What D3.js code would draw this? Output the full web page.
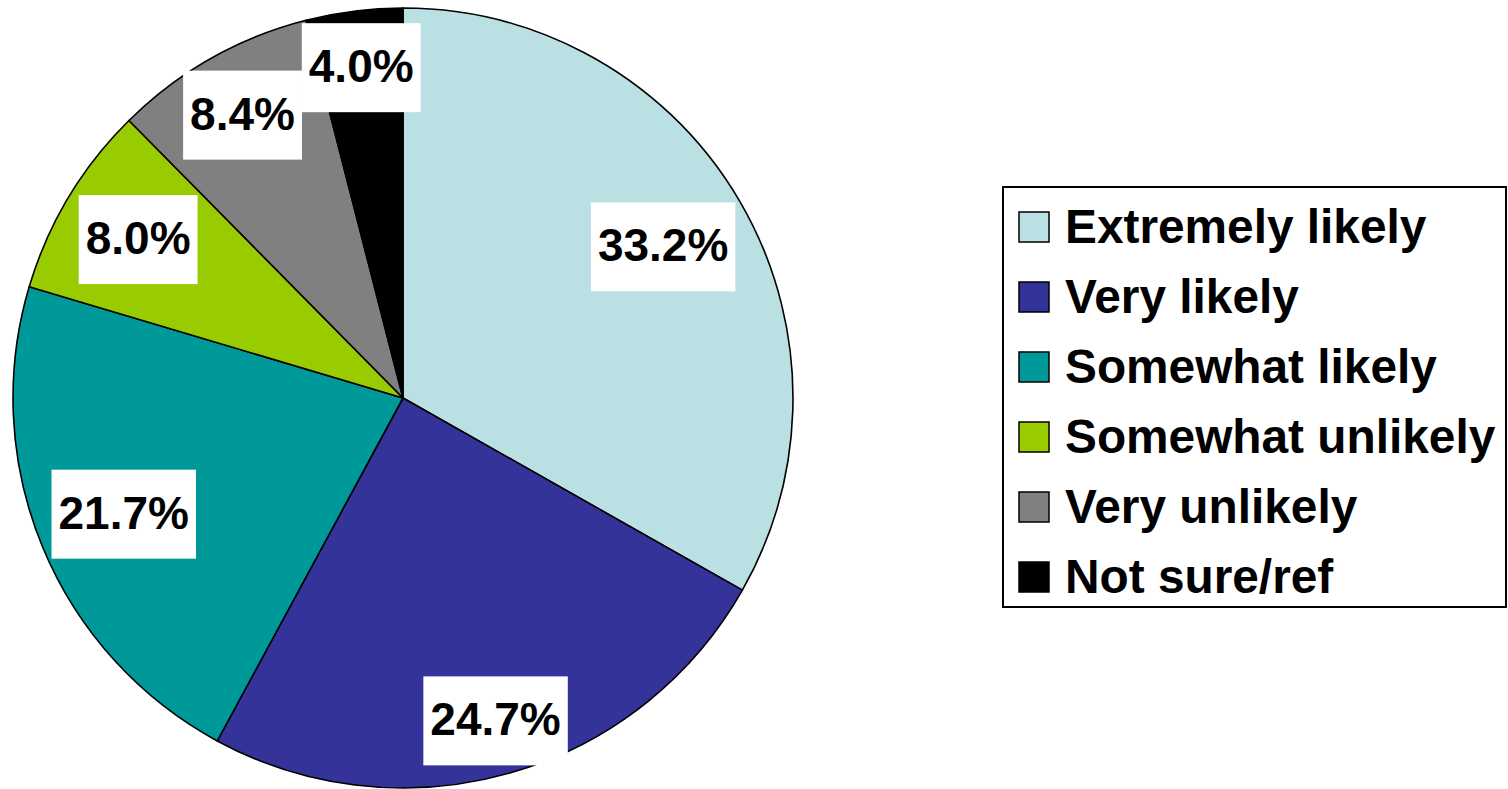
<!DOCTYPE html>
<html>
<head>
<meta charset="utf-8">
<script src="https://cdn.jsdelivr.net/npm/d3@7"></script>
<style>
  html, body { margin: 0; padding: 0; background: #fff; }
  svg { display: block; }
  text { font-family: "Liberation Sans", Arial, sans-serif; font-weight: bold; }
</style>
</head>
<body>
<svg id="chart" width="1508" height="789"></svg>
<script>
// ---- data ----
const categories = ["Extremely likely", "Very likely", "Somewhat likely", "Somewhat unlikely", "Very unlikely", "Not sure/ref"];
const values = [33.2, 24.7, 21.7, 8.0, 8.4, 4.0];
const colors = ["#BBE0E3", "#333399", "#009999", "#99CC00", "#808080", "#000000"];
// label placement (fraction of radius, per slice) — layout only
const labelRadiusFrac = [0.772, 0.86, 0.775, 0.792, 0.835, 0.855];

const svg = d3.select("#chart");
const cx = 403, cy = 398, R = 390;

const pie = d3.pie().sort(null).value(d => d)(values);
const arc = d3.arc().innerRadius(0).outerRadius(R);

const g = svg.append("g").attr("transform", `translate(${cx},${cy})`);

g.selectAll("path.slice")
  .data(pie)
  .join("path")
  .attr("class", "slice")
  .attr("d", arc)
  .attr("fill", (d, i) => colors[i])
  .attr("stroke", "#000")
  .attr("stroke-width", 1.6)
  .attr("stroke-linejoin", "round");

// labels
const fmt = d3.format(".1f");
const labelFont = 46;
const labels = g.selectAll("g.lbl")
  .data(pie)
  .join("g")
  .attr("class", "lbl")
  .attr("transform", (d, i) => {
    const a = (d.startAngle + d.endAngle) / 2;
    const r = R * labelRadiusFrac[i];
    return `translate(${r * Math.sin(a)},${-r * Math.cos(a)})`;
  });

labels.each(function (d) {
  const sel = d3.select(this);
  const t = sel.append("text")
    .attr("text-anchor", "middle")
    .attr("font-size", labelFont)
    .attr("y", 15)
    .attr("fill", "#000")
    .text(fmt(d.data) + "%");
  const w = t.node().getComputedTextLength();
  sel.insert("rect", "text")
    .attr("x", -w / 2 - 7)
    .attr("y", -44)
    .attr("width", w + 14)
    .attr("height", 89)
    .attr("fill", "#fff");
});

// legend
const lg = svg.append("g");
lg.append("rect")
  .attr("x", 1003).attr("y", 187)
  .attr("width", 503).attr("height", 420)
  .attr("fill", "#fff")
  .attr("stroke", "#000")
  .attr("stroke-width", 2);

const rowY = d3.scalePoint().domain(categories).range([227, 577]);
const items = lg.selectAll("g.item")
  .data(categories)
  .join("g")
  .attr("class", "item")
  .attr("transform", d => `translate(0,${rowY(d)})`);

items.append("rect")
  .attr("x", 1019).attr("y", -15)
  .attr("width", 30).attr("height", 30)
  .attr("fill", (d, i) => colors[i])
  .attr("stroke", "#000")
  .attr("stroke-width", 1.5);

items.append("text")
  .attr("x", 1065)
  .attr("y", 16)
  .attr("font-size", 47.8)
  .attr("fill", "#000")
  .text(d => d);
</script>
</body>
</html>
